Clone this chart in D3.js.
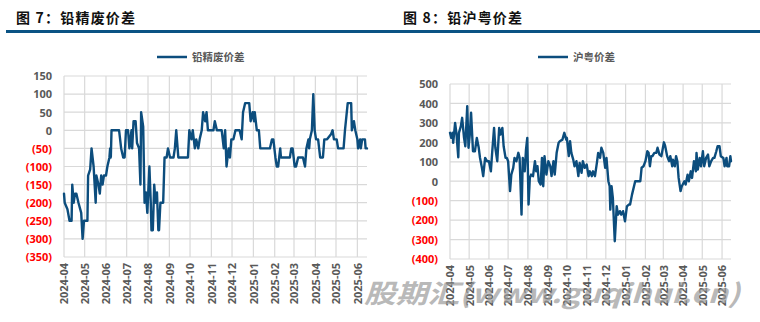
<!DOCTYPE html>
<html><head><meta charset="utf-8">
<script src="https://cdn.jsdelivr.net/npm/d3@7"></script>
<style>
html,body{margin:0;padding:0;background:#fff;}
svg{display:block;}
</style></head>
<body>
<svg id="c" width="760" height="322"></svg>
<script>
const monthTicks = ["2024-04","2024-05","2024-06","2024-07","2024-08","2024-09","2024-10","2024-11","2024-12","2025-01","2025-02","2025-03","2025-04","2025-05","2025-06"];

const leftTitle = "图 7：铅精废价差";
const leftSeries = "铅精废价差";
const leftYTicks = [150,100,50,0,-50,-100,-150,-200,-250,-300,-350];
const leftDates = ["2024-04-01","2024-04-02","2024-04-06","2024-04-09","2024-04-12","2024-04-13","2024-04-15","2024-04-17","2024-04-19","2024-04-22","2024-04-26","2024-04-28","2024-04-30",
"2024-05-05","2024-05-06","2024-05-09","2024-05-11","2024-05-14","2024-05-17","2024-05-18","2024-05-21","2024-05-23","2024-05-25","2024-05-27","2024-05-29",
"2024-06-01","2024-06-03","2024-06-06","2024-06-07","2024-06-08","2024-06-09","2024-06-20","2024-06-23","2024-06-26","2024-06-28","2024-06-30",
"2024-07-03","2024-07-05","2024-07-08","2024-07-09","2024-07-11","2024-07-14","2024-07-16","2024-07-19","2024-07-21","2024-07-22","2024-07-25","2024-07-27","2024-07-29","2024-07-31",
"2024-08-03","2024-08-05","2024-08-06","2024-08-08","2024-08-10","2024-08-12","2024-08-14","2024-08-16","2024-08-17","2024-08-19","2024-08-23","2024-08-25","2024-08-28","2024-08-30",
"2024-09-02","2024-09-07","2024-09-09","2024-09-11","2024-09-14","2024-09-28","2024-09-30",
"2024-10-03","2024-10-05","2024-10-08","2024-10-10","2024-10-13","2024-10-15","2024-10-18","2024-10-20","2024-10-23","2024-10-25","2024-10-27",
"2024-11-04","2024-11-06","2024-11-09","2024-11-16","2024-11-19","2024-11-21","2024-11-23","2024-11-26","2024-11-28","2024-11-30",
"2024-12-03","2024-12-06","2024-12-12","2024-12-15","2024-12-17","2024-12-20","2024-12-26","2024-12-28","2024-12-31",
"2025-01-02","2025-01-03","2025-01-06","2025-01-09","2025-01-11","2025-01-25","2025-01-28","2025-01-30",
"2025-02-02","2025-02-04","2025-02-06","2025-02-09","2025-02-10","2025-02-23","2025-02-25","2025-02-27",
"2025-03-02","2025-03-04","2025-03-07","2025-03-14","2025-03-17","2025-03-19","2025-03-22","2025-03-23","2025-03-24","2025-03-27","2025-03-29","2025-03-31",
"2025-04-02","2025-04-05","2025-04-08","2025-04-12","2025-04-14","2025-04-18","2025-04-20","2025-04-24","2025-04-26","2025-04-28",
"2025-05-02","2025-05-04","2025-05-12","2025-05-14","2025-05-18","2025-05-23","2025-05-24","2025-05-27","2025-05-29",
"2025-06-01","2025-06-02","2025-06-05","2025-06-06","2025-06-08","2025-06-12","2025-06-13","2025-06-15"];
const leftValues = [-175,-200,-218,-250,-250,-150,-200,-175,-175,-200,-228,-300,-250,
-250,-125,-108,-50,-100,-200,-125,-150,-175,-125,-150,-125,
-125,-100,-75,-50,-75,0,0,-50,-75,-75,0,
0,-50,0,-50,25,25,-35,-50,-150,50,10,-200,-172,-228,
-100,-200,-276,-276,-150,-200,-172,-276,-276,-200,-200,-75,-75,-50,
-75,-75,-50,0,-75,-75,0,
-25,0,-50,-25,-50,-25,0,50,25,50,0,
0,25,0,0,-50,0,-100,-50,-75,-25,
-25,0,0,-25,50,75,75,25,50,
25,50,0,0,-50,-50,-25,-25,
-75,-100,-100,-50,-75,-75,-50,-50,
-100,-100,-75,-75,-100,-50,-25,-50,-25,0,100,0,
-25,-25,-75,-75,-25,-25,-20,-10,0,-25,
-25,-50,-50,0,75,75,0,25,0,
-25,-50,-25,-50,-25,-25,-50,-50];

const rightTitle = "图 8：铅沪粤价差";
const rightSeries = "沪粤价差";
const rightYTicks = [500,400,300,200,100,0,-100,-200,-300,-400];
const rightDates = ["2024-04-01","2024-04-03","2024-04-05","2024-04-06","2024-04-09","2024-04-11","2024-04-14","2024-04-15","2024-04-18","2024-04-20","2024-04-23","2024-04-25","2024-04-28","2024-04-30",
"2024-05-02","2024-05-04","2024-05-07","2024-05-10","2024-05-13","2024-05-16","2024-05-18","2024-05-21","2024-05-23","2024-05-26","2024-05-29",
"2024-06-01","2024-06-04","2024-06-06","2024-06-09","2024-06-11","2024-06-14","2024-06-17","2024-06-19","2024-06-22","2024-06-24","2024-06-27","2024-06-29",
"2024-07-01","2024-07-04","2024-07-06","2024-07-09","2024-07-11","2024-07-14","2024-07-17","2024-07-19","2024-07-22","2024-07-24","2024-07-27","2024-07-29","2024-07-31",
"2024-08-02","2024-08-04","2024-08-06","2024-08-09","2024-08-12","2024-08-14","2024-08-16","2024-08-18","2024-08-21","2024-08-23","2024-08-25","2024-08-27","2024-08-30",
"2024-09-02","2024-09-05","2024-09-07","2024-09-10","2024-09-12","2024-09-15","2024-09-18","2024-09-20","2024-09-24","2024-09-27","2024-09-30",
"2024-10-01","2024-10-04","2024-10-06","2024-10-08","2024-10-11","2024-10-13","2024-10-16","2024-10-19","2024-10-21","2024-10-24","2024-10-26","2024-10-29",
"2024-11-01","2024-11-04","2024-11-06","2024-11-09","2024-11-11","2024-11-14","2024-11-17","2024-11-19","2024-11-22","2024-11-24","2024-11-27","2024-11-30",
"2024-12-02","2024-12-05","2024-12-07","2024-12-08","2024-12-10","2024-12-12","2024-12-15","2024-12-18","2024-12-20","2024-12-23","2024-12-25","2024-12-28","2024-12-31",
"2025-01-03","2025-01-06","2025-01-08","2025-01-11","2025-01-16","2025-01-21","2025-01-24","2025-01-26","2025-01-29",
"2025-02-01","2025-02-04","2025-02-06","2025-02-08","2025-02-10","2025-02-12","2025-02-15","2025-02-18","2025-02-20","2025-02-23","2025-02-26",
"2025-03-02","2025-03-04","2025-03-07","2025-03-10","2025-03-12","2025-03-15","2025-03-16","2025-03-19","2025-03-21","2025-03-23","2025-03-25","2025-03-28","2025-03-30",
"2025-04-03","2025-04-05","2025-04-08","2025-04-10","2025-04-13","2025-04-15","2025-04-18","2025-04-21","2025-04-22","2025-04-24","2025-04-27","2025-04-29",
"2025-05-02","2025-05-04","2025-05-07","2025-05-10","2025-05-12","2025-05-15","2025-05-18","2025-05-20","2025-05-23","2025-05-25","2025-05-28","2025-05-30",
"2025-06-03","2025-06-05","2025-06-08","2025-06-09","2025-06-12","2025-06-14","2025-06-15"];
const rightValues = [249,223,249,197,300,249,123,249,283,326,223,180,386,172,
240,352,154,154,223,172,120,69,26,120,103,
103,51,146,274,172,103,274,240,274,180,120,120,
103,-51,34,69,120,103,146,120,-172,120,51,163,223,
-120,17,34,26,103,51,77,0,-17,120,-26,129,34,
103,77,26,103,34,146,197,206,214,249,214,
223,129,206,146,111,77,103,26,94,43,103,69,
86,26,51,26,51,26,94,146,120,172,146,69,
120,0,-26,-146,-26,-86,-309,-129,-172,-154,-172,-154,-206,
-129,-120,-120,-69,0,0,0,69,77,
103,154,146,77,129,129,146,146,172,137,129,
200,180,129,103,129,77,111,77,129,103,17,-51,-26,
0,-17,34,0,51,17,103,51,146,60,120,77,
154,77,120,137,77,103,120,120,154,180,180,129,
120,77,120,77,77,129,103];

const watermark = "股期汇(www.guqihui.cn)";

const parse = d3.timeParse("%Y-%m-%d");
const parseM = d3.timeParse("%Y-%m");
const svg = d3.select("#c");
const LINE = "#0c4d7d";
const GRID = "#d9d9d9";
const GRAY = "#595959";
const FONT = "'Open Sans', 'Noto Sans CJK SC', sans-serif";

function fmt(v){ return v < 0 ? "(" + Math.abs(v) + ")" : String(v); }

function panel(o){
  const g = svg.append("g");
  // title
  g.append("text").attr("x", o.titleX).attr("y", 23)
    .attr("font-family","'Noto Sans CJK SC', sans-serif").attr("font-weight","bold")
    .attr("font-size", 14).attr("letter-spacing", 1.2).attr("fill","#111").text(o.title);
  g.append("rect").attr("x", o.barX0).attr("y", 30).attr("width", o.barX1 - o.barX0).attr("height", 3).attr("fill","#0b5384");
  // legend
  g.append("line").attr("x1", o.legX).attr("x2", o.legX + 30).attr("y1", 57).attr("y2", 57)
    .attr("stroke", LINE).attr("stroke-width", 2.5);
  g.append("text").attr("x", o.legX + 35).attr("y", 61)
    .attr("font-family","'Noto Sans CJK SC', sans-serif").attr("font-weight","bold")
    .attr("font-size", 10.5).attr("fill", GRAY).text(o.series);

  const x = d3.scaleTime().domain([parse("2024-04-01"), parse("2025-06-15")]).range([o.x0, o.x1]);
  const y = d3.scaleLinear().domain(o.yDomain).range([o.y1, o.y0]);

  // grid horizontal
  g.append("g").selectAll("line").data(o.yTicks).join("line")
    .attr("x1", o.x0).attr("x2", o.x1).attr("y1", d => y(d)).attr("y2", d => y(d))
    .attr("stroke", GRID).attr("stroke-width", 1.2);
  // grid vertical
  const mt = monthTicks.map(parseM);
  g.append("g").selectAll("line").data(mt).join("line")
    .attr("x1", d => x(d)).attr("x2", d => x(d)).attr("y1", o.y0).attr("y2", o.y1)
    .attr("stroke", GRID).attr("stroke-width", 1.2);

  // y axis labels
  const ya = d3.axisLeft(y).tickValues(o.yTicks).tickFormat(fmt).tickSize(0).tickPadding(0);
  const yg = g.append("g").attr("transform", `translate(${o.labelRight},0)`).call(ya);
  yg.select(".domain").remove();
  yg.selectAll("text").attr("font-family", FONT).attr("font-weight","bold").attr("font-size", 11)
    .attr("fill", d => d < 0 ? "#ff0000" : GRAY).attr("dy","0.35em");

  // x axis labels
  const xa = d3.axisBottom(x).tickValues(mt).tickFormat(d3.timeFormat("%Y-%m")).tickSize(0).tickPadding(0);
  const xg = g.append("g").attr("transform", `translate(0,${o.y1})`).call(xa);
  xg.select(".domain").remove();
  xg.selectAll("text").attr("font-family", FONT).attr("font-weight","bold").attr("font-size", 11)
    .attr("fill", GRAY).attr("text-anchor","end").attr("transform","rotate(-90)")
    .attr("x", -6).attr("y", 0).attr("dy","0.35em");

  // line
  const data = o.dates.map((d,i) => ({d: parse(d), v: o.values[i]}));
  g.append("path").datum(data)
    .attr("fill","none").attr("stroke", LINE).attr("stroke-width", 2.4)
    .attr("stroke-linejoin","round").attr("stroke-linecap","round")
    .attr("d", d3.line().x(p => x(p.d)).y(p => y(p.v)));
}

panel({title:leftTitle, titleX:16, barX0:6, barX1:380, series:leftSeries, legX:157,
  x0:64, x1:367, y0:76, y1:257, yDomain:[-350,150], yTicks:leftYTicks, labelRight:52,
  dates:leftDates, values:leftValues});
panel({title:rightTitle, titleX:403, barX0:380, barX1:760, series:rightSeries, legX:538,
  x0:450, x1:731, y0:84, y1:259, yDomain:[-400,500], yTicks:rightYTicks, labelRight:438,
  dates:rightDates, values:rightValues});

svg.append("text").attr("x", 364).attr("y", 303)
  .attr("font-family","'Noto Sans CJK SC', sans-serif").attr("font-weight","bold").attr("font-style","italic")
  .attr("font-size", 26).attr("fill","#9a9a9a").attr("fill-opacity", 0.7)
  .attr("textLength", 376).attr("lengthAdjust","spacingAndGlyphs")
  .text(watermark);
</script>
</body></html>
